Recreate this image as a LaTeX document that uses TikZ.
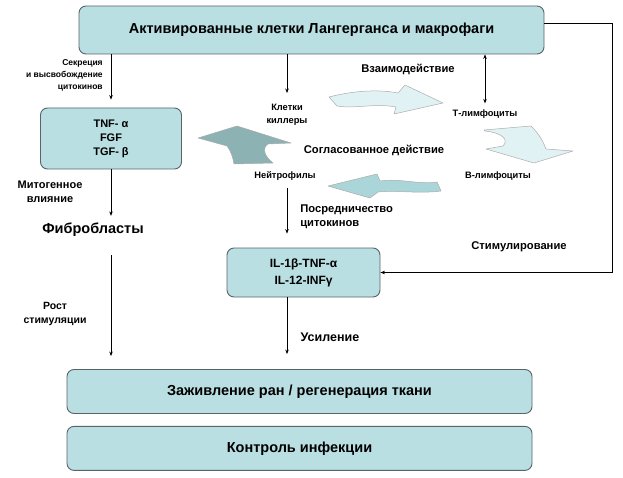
\documentclass[tikz,border=0pt]{standalone}
\usepackage{fontspec}
\setmainfont{Liberation Sans}
\usetikzlibrary{arrows.meta, positioning}

\definecolor{boxfill}{RGB}{185,223,227}
\definecolor{boxline}{RGB}{88,100,104}
\definecolor{lightarrow}{RGB}{225,242,244}
\definecolor{midarrow}{RGB}{170,213,217}
\definecolor{darkarrow}{RGB}{140,178,180}

\begin{document}
\begin{tikzpicture}[
      x=1pt, y=-1pt,
      node distance=12pt,
      every node/.style={font=\bfseries, inner sep=1pt},
      box/.style={draw=boxline, fill=boxfill, rounded corners=7pt, line width=0.9pt, align=center},
      small/.style={font=\bfseries\fontsize{9.3}{13}\selectfont, align=center},
      medium/.style={font=\bfseries\fontsize{11.2}{13.5}\selectfont, align=center},
      large/.style={font=\bfseries\fontsize{14.5}{17}\selectfont, align=center},
      blockarrow/.style={draw=gray!65, line width=0.5pt, line join=round},
      >={Stealth[length=4.5pt, width=3.5pt]}, line width=0.6pt
    ]
    \useasboundingbox (0,0) rectangle (623,478);

    % Boxes
    \node[box, large, minimum width=465pt, minimum height=48pt] (cells) at (311.5,30)
      {Активированные клетки Лангерганса и макрофаги};
    \node[box, medium, font=\bfseries\fontsize{11}{14}\selectfont, minimum width=141pt, minimum height=61pt] (tnf) at (111,138.5)
      {TNF- α\\FGF\\TGF- β};
    \node[box, medium, font=\bfseries\fontsize{12}{17}\selectfont, minimum width=153pt, minimum height=49pt] (il) at (303.5,272.5)
      {IL-1β-TNF-α\\IL-12-INFγ};
    \node[box, large, minimum width=465pt, minimum height=44pt] (heal) at (299.5,391.5)
      {Заживление ран / регенерация ткани};
    \node[box, large, minimum width=465pt, minimum height=44pt, below=12pt of heal] (ctrl)
      {Контроль инфекции};

    % Labels
    \node[small, font=\bfseries\fontsize{8.5}{12}\selectfont, anchor=east, align=right] (secr) at (104,75)
      {Секреция\\и высвобождение\\цитокинов};
    \node[small] (killers) at (287,115) {Клетки\\киллеры};
    \node[medium] (inter) at (408,69) {Взаимодействие};
    \node[small] (tly) at (485,114) {Т-лимфоциты};
    \node[medium] (joint) at (374,150) {Согласованное действие};
    \node[small] (bly) at (498,176) {В-лимфоциты};
    \node[small] (neut) at (285,176) {Нейтрофилы};
    \node[medium, font=\bfseries\fontsize{11}{14}\selectfont] (mito) at (50,192) {Митогенное\\влияние};
    \node[large] (fibro) at (93,230) {Фибробласты};
    \node[medium, anchor=west, align=left] (medi) at (299,217) {Посредничество\\цитокинов};
    \node[medium] (stim) at (519,247) {Стимулирование};
    \node[medium, font=\bfseries\fontsize{10.5}{14}\selectfont] (growth) at (55,314) {Рост\\стимуляции};
    \node[medium, font=\bfseries\fontsize{12.5}{15}\selectfont] (ampl) at (330,337) {Усиление};

    % Arrows
    \draw[->, shorten >=8pt] (cells.south -| tnf) -- (tnf.north);
    \draw[->, shorten >=10pt] (cells.south -| killers) -- (killers.north);
    \draw[<->, shorten >=5pt] (cells.south -| tly) -- (tly.north);
    \draw[->, shorten >=6pt] (tnf) -- (fibro.north -| tnf);
    \draw[->, shorten <=6pt, shorten >=14pt] (neut.south -| killers) -- (il.north -| killers);
    \draw[->, shorten >=15pt] (il.south -| killers) -- (heal.north -| killers);
    \draw[->, shorten <=17pt, shorten >=13pt] (fibro.south -| tnf) -- (heal.north -| tnf);
    \draw[->] ([yshift=7pt]cells.east) -- ++(68,0) |- (il.east);

    % Block arrows of the cell cycle
    \filldraw[blockarrow, fill=lightarrow] (329,97) .. controls (352,91) and (378,89) .. (398,93)
      -- (405,85) -- (443,103) -- (394,114) -- (396,107)
      .. controls (375,103) and (355,109) .. (337,106) -- cycle;
    \filldraw[blockarrow, fill=lightarrow] (484,130) -- (531,126)
      .. controls (539,134) and (543,141) .. (546,149) -- (573,151) -- (534,163) -- (486,149) -- (503,146)
      .. controls (509,140) and (503,133) .. (485,131) -- cycle;
    \filldraw[blockarrow, fill=midarrow] (328,186) -- (377,174) -- (380,181)
      .. controls (400,178) and (420,185) .. (437,182) -- (441,191)
      .. controls (418,194) and (397,190) .. (378,192) -- (370,198) -- cycle;
    \filldraw[blockarrow, fill=darkarrow] (198,138) -- (237,126) -- (291,143) -- (268,144)
      .. controls (262,148) and (264,156) .. (273,163) -- (234,164)
      .. controls (233,158) and (231,151) .. (227,146) -- cycle;
\end{tikzpicture}
\end{document}
